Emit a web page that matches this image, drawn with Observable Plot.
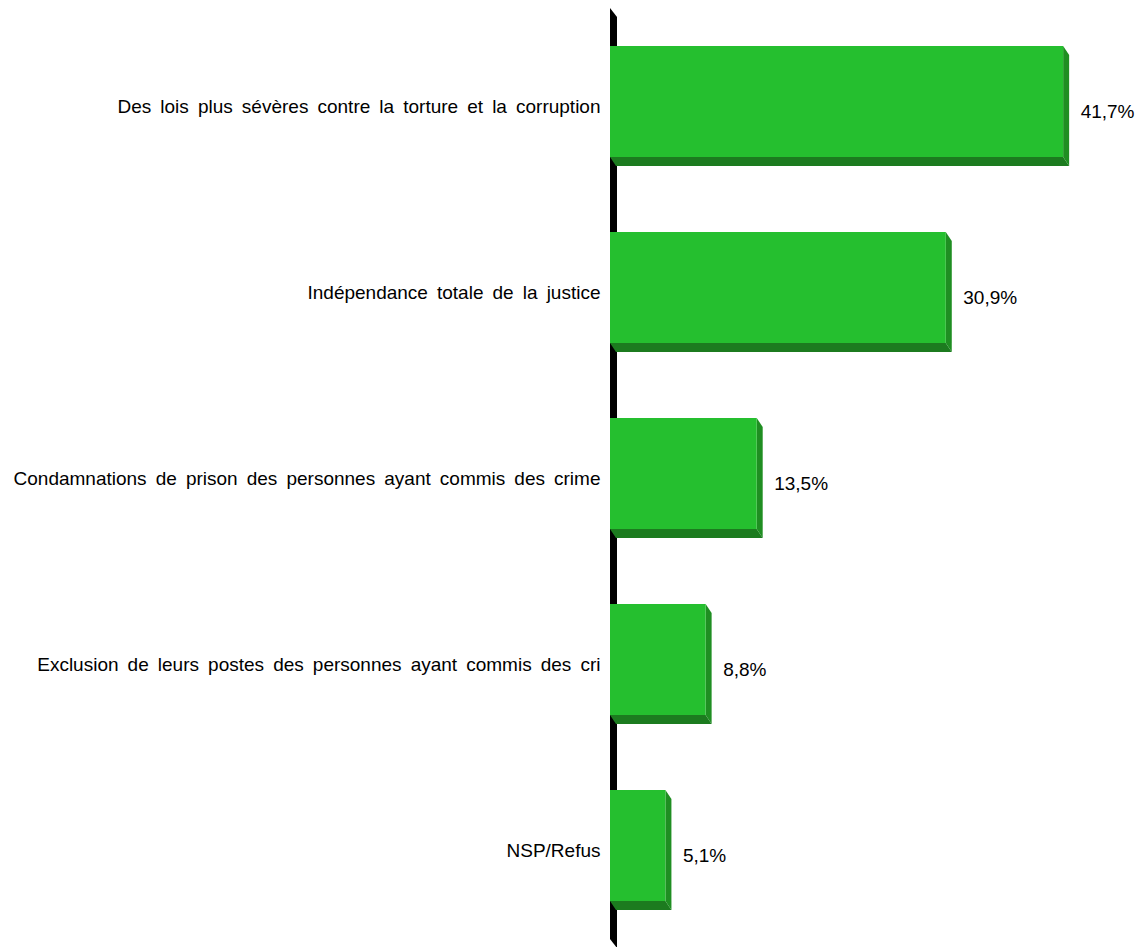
<!DOCTYPE html>
<html>
<head>
<meta charset="utf-8">
<script src="https://cdn.jsdelivr.net/npm/d3@7"></script>
<script src="https://cdn.jsdelivr.net/npm/@observablehq/plot@0.6"></script>
<style>
  html, body { margin: 0; padding: 0; background: #fff; }
  #chart svg { display: block; font-family: "Liberation Sans", Arial, sans-serif; }
  #chart svg text { word-spacing: 3.8px; }
</style>
</head>
<body>
<div id="chart"></div>
<script>
const categories = [
  "Des lois plus sévères contre la torture et la corruption",
  "Indépendance totale de la justice",
  "Condamnations de prison des personnes ayant commis des crime",
  "Exclusion de leurs postes des personnes ayant commis des cri",
  "NSP/Refus"
];
const values = [41.7, 30.9, 13.5, 8.8, 5.1];
const valueLabels = ["41,7%", "30,9%", "13,5%", "8,8%", "5,1%"];

const data = categories.map((c, i) => ({category: c, value: values[i], label: valueLabels[i]}));

const DEPTH_X = 6, DEPTH_Y = 9;
const FRONT = "#25bf2f", SIDE = "#1f8e22", BOTTOM = "#1c7b1f", WALL = "#000000";

function bars3d(index, scales, vals, dimensions, context, next) {
  const base = next(index, scales, vals, dimensions, context);
  const rects = Array.from(base.querySelectorAll("rect"));
  const g = d3.create("svg:g");
  const x0 = scales.x(0);
  const top = dimensions.marginTop, bottom = dimensions.height - dimensions.marginBottom;
  const poly = (pts) => "M" + pts.map(p => p.join(",")).join("L") + "Z";
  g.append("path")
    .attr("d", poly([[x0, top], [x0 + 7, top + DEPTH_Y], [x0 + 7, bottom + DEPTH_Y], [x0, bottom]]))
    .attr("fill", WALL);
  for (const r of rects) {
    const x = +r.getAttribute("x"), y = +r.getAttribute("y");
    const w = +r.getAttribute("width"), h = +r.getAttribute("height");
    g.append("path")
      .attr("d", poly([[x, y + h], [x + w, y + h], [x + w + DEPTH_X, y + h + DEPTH_Y], [x + DEPTH_X, y + h + DEPTH_Y]]))
      .attr("fill", BOTTOM);
    g.append("path")
      .attr("d", poly([[x + w, y], [x + w + DEPTH_X, y + DEPTH_Y], [x + w + DEPTH_X, y + h + DEPTH_Y], [x + w, y + h]]))
      .attr("fill", SIDE);
    g.append("rect")
      .attr("x", x).attr("y", y).attr("width", w).attr("height", h)
      .attr("fill", FRONT);
  }
  return g.node();
}

const chart = Plot.plot({
  width: 1141,
  height: 947,
  marginLeft: 610,
  marginRight: 42,
  marginTop: 8,
  marginBottom: 8,
  style: {fontFamily: "Liberation Sans, Arial, sans-serif", fontSize: "19px", color: "#000", background: "#fff"},
  x: {domain: [0, 45], axis: null},
  y: {domain: categories, paddingInner: 0.404, paddingOuter: 0.202, label: null},
  marks: [
    Plot.axisY({tickSize: 0, tickPadding: 10, dy: 5, fontSize: 19, label: null}),
    Plot.barX(data, {x: "value", y: "category", fill: FRONT, insetTop: 0, insetBottom: 0, render: bars3d}),
    Plot.text(data, {x: "value", y: "category", text: "label", textAnchor: "start", dx: 17, dy: 10, fontSize: 19, fill: "#000"})
  ]
});
document.getElementById("chart").appendChild(chart);
</script>
</body>
</html>
